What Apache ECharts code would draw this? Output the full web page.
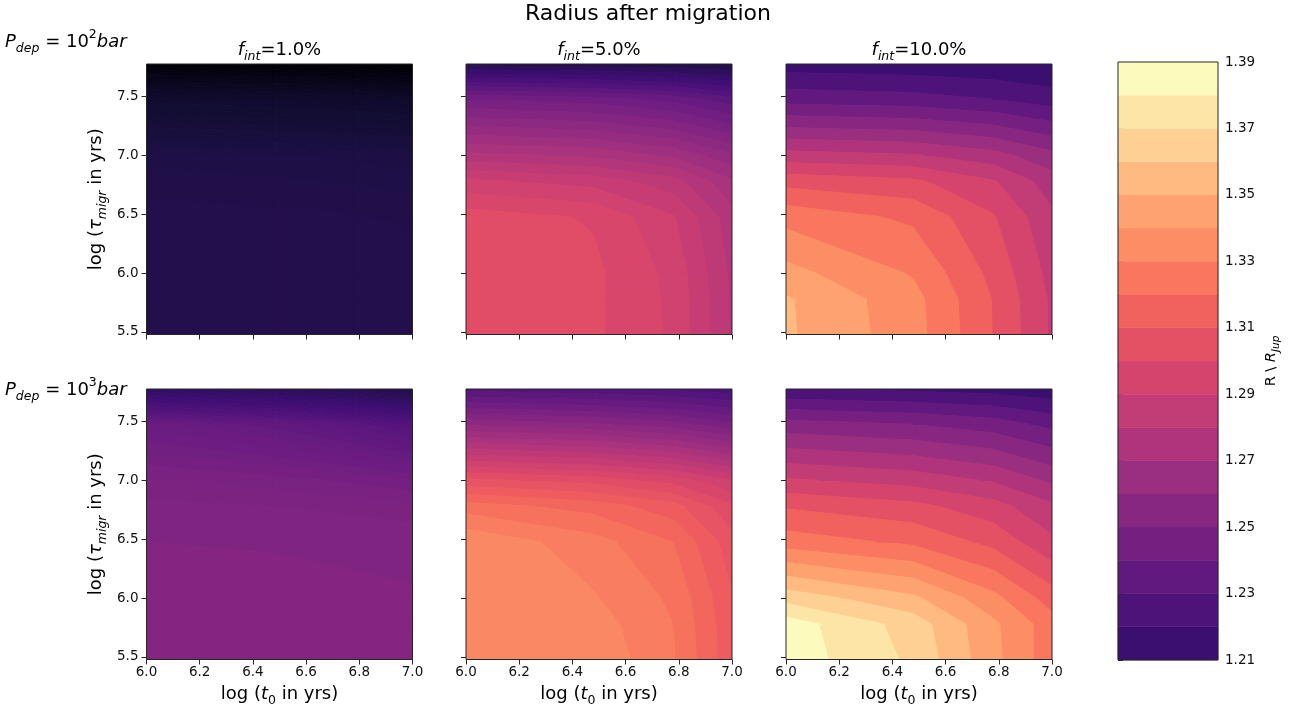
<!DOCTYPE html>
<html><head><meta charset="utf-8">
<script src="https://cdn.jsdelivr.net/npm/echarts@6/dist/echarts.min.js"></script>
<style>html,body{margin:0;padding:0;background:#fff}#c{width:1293px;height:710px}</style>
</head><body><div id="c"></div>
<script>
// ---- grid nodes (log10 of years) ----
const T0_LOG = [6.0, 6.4771, 6.7782, 7.0];
const TAU_LOG = [5.4771, 5.7782, 6.0, 6.4771, 6.7782, 7.0, 7.4771, 7.7782];

// ---- radius values, rows = TAU_LOG (bottom -> top), cols = T0_LOG ----
const R_P2_F1 = [
  [1.2020, 1.2019, 1.2018, 1.2017],
  [1.2020, 1.2019, 1.2018, 1.2016],
  [1.2019, 1.2018, 1.2017, 1.2015],
  [1.2015, 1.2013, 1.2011, 1.2008],
  [1.2005, 1.2002, 1.1999, 1.1995],
  [1.1995, 1.1991, 1.1987, 1.1982],
  [1.1905, 1.1898, 1.1890, 1.1882],
  [1.1740, 1.1733, 1.1727, 1.1720]
];
const R_P2_F5 = [
  [1.3035, 1.3010, 1.2941, 1.2793],
  [1.3035, 1.3010, 1.2939, 1.2792],
  [1.3032, 1.3012, 1.2935, 1.2788],
  [1.3026, 1.2995, 1.2905, 1.2770],
  [1.2913, 1.2880, 1.2820, 1.2710],
  [1.2765, 1.2740, 1.2690, 1.2610],
  [1.2450, 1.2425, 1.2385, 1.2320],
  [1.2030, 1.2020, 1.2005, 1.1990]
];
const R_P2_F10 = [
  [1.3515, 1.3342, 1.3100, 1.2885],
  [1.3511, 1.3335, 1.3095, 1.2882],
  [1.3433, 1.3290, 1.3070, 1.2865],
  [1.3264, 1.3180, 1.3010, 1.2820],
  [1.3064, 1.3020, 1.2910, 1.2750],
  [1.2840, 1.2810, 1.2740, 1.2630],
  [1.2360, 1.2340, 1.2300, 1.2250],
  [1.2150, 1.2135, 1.2120, 1.2100]
];
const R_P3_F1 = [
  [1.2525, 1.2525, 1.2524, 1.2523],
  [1.2525, 1.2525, 1.2524, 1.2523],
  [1.2524, 1.2524, 1.2523, 1.2522],
  [1.2520, 1.2519, 1.2517, 1.2514],
  [1.2505, 1.2500, 1.2494, 1.2488],
  [1.2485, 1.2470, 1.2455, 1.2440],
  [1.2390, 1.2350, 1.2310, 1.2270],
  [1.2090, 1.2060, 1.2030, 1.2000]
];
const R_P3_F5 = [
  [1.3345, 1.3340, 1.3255, 1.3116],
  [1.3345, 1.3325, 1.3250, 1.3112],
  [1.3345, 1.3305, 1.3240, 1.3105],
  [1.3343, 1.3270, 1.3200, 1.3070],
  [1.3225, 1.3180, 1.3120, 1.3010],
  [1.3065, 1.3030, 1.2980, 1.2900],
  [1.2590, 1.2560, 1.2520, 1.2460],
  [1.2280, 1.2260, 1.2240, 1.2220]
];
const R_P3_F10 = [
  [1.3860, 1.3680, 1.3430, 1.3240],
  [1.3850, 1.3655, 1.3420, 1.3243],
  [1.3660, 1.3520, 1.3330, 1.3150],
  [1.3250, 1.3180, 1.3070, 1.2920],
  [1.3090, 1.3030, 1.2940, 1.2820],
  [1.2914, 1.2860, 1.2790, 1.2680],
  [1.2540, 1.2500, 1.2450, 1.2370],
  [1.2206, 1.2180, 1.2160, 1.2130]
];

// contour level spacing of each panel
const LEVEL_STEP = [0.001, 0.005, 0.01, 0.002, 0.005, 0.01];

// ticks / labels
const X_TICKS = [6.0, 6.2, 6.4, 6.6, 6.8, 7.0];
const Y_TICKS = [5.5, 6.0, 6.5, 7.0, 7.5];
const CB_LEVELS = [1.21,1.22,1.23,1.24,1.25,1.26,1.27,1.28,1.29,1.30,1.31,1.32,1.33,1.34,1.35,1.36,1.37,1.38,1.39];
const CB_TICKS = [1.21,1.23,1.25,1.27,1.29,1.31,1.33,1.35,1.37,1.39];
const F_INT = ['1.0', '5.0', '10.0'];
const P_EXP = ['2', '3'];
const NORM_MIN = 1.172, NORM_MAX = 1.386;

// ---- magma colormap ----
const MAGMA = [
  [0.0,'#000004'],[0.1,'#140e36'],[0.1111,'#180f3d'],[0.2,'#3b0f70'],[0.2222,'#440f76'],
  [0.3,'#641a80'],[0.3333,'#721f81'],[0.4,'#8c2981'],[0.4444,'#9e2f7f'],[0.5,'#b73779'],
  [0.5556,'#cd4071'],[0.6,'#de4968'],[0.6667,'#f1605d'],[0.7,'#f7705c'],[0.7778,'#fd9668'],
  [0.8,'#fe9f6d'],[0.8889,'#feca8d'],[0.9,'#fecf92'],[1.0,'#fcfdbf']
];
function hex2rgb(h){return [parseInt(h.substr(1,2),16),parseInt(h.substr(3,2),16),parseInt(h.substr(5,2),16)];}
function magma(v){
  let t = (v - NORM_MIN) / (NORM_MAX - NORM_MIN);
  t = Math.max(0, Math.min(1, t));
  for (let k = 1; k < MAGMA.length; k++) {
    if (t <= MAGMA[k][0]) {
      const a = MAGMA[k-1], b = MAGMA[k];
      const f = (t - a[0]) / (b[0] - a[0]);
      const ca = hex2rgb(a[1]), cb = hex2rgb(b[1]);
      return 'rgb(' + [0,1,2].map(q => Math.round(ca[q] + f*(cb[q]-ca[q]))).join(',') + ')';
    }
  }
  return MAGMA[MAGMA.length-1][1];
}

function levelsFor(z, step){
  let mn = Infinity, mx = -Infinity;
  z.forEach(r => r.forEach(v => { mn = Math.min(mn, v); mx = Math.max(mx, v); }));
  const k0 = Math.floor(mn/step + 1e-9), k1 = Math.ceil(mx/step - 1e-9);
  const out = [];
  for (let k = k0; k <= k1; k++) out.push(Math.round(k*step*1e6)/1e6);
  return out;
}
function interp(a, b, lev){
  const t = (lev - a[2]) / (b[2] - a[2]);
  return [a[0] + t*(b[0]-a[0]), a[1] + t*(b[1]-a[1]), lev];
}
function clipPoly(poly, lev, above){
  const out = [];
  const inside = p => above ? p[2] >= lev : p[2] <= lev;
  for (let k = 0; k < poly.length; k++) {
    const s = poly[(k + poly.length - 1) % poly.length], e = poly[k];
    if (inside(e)) { if (!inside(s)) out.push(interp(s, e, lev)); out.push(e); }
    else if (inside(s)) out.push(interp(s, e, lev));
  }
  return out;
}

const PANELS = [
  {z: R_P2_F1, row: 0, col: 0}, {z: R_P2_F5, row: 0, col: 1}, {z: R_P2_F10, row: 0, col: 2},
  {z: R_P3_F1, row: 1, col: 0}, {z: R_P3_F5, row: 1, col: 1}, {z: R_P3_F10, row: 1, col: 2}
];
const COL_LEFT = [146.5, 466, 786], COL_W = 266;
const ROW_TOP = [64, 389], ROW_H = 270.5;

const FONT = 'DejaVu Sans';
function richSet(fs, sfs, lh, slh){
  return {
    n:   {fontFamily: FONT, fontSize: fs, lineHeight: lh, fontWeight: 'normal', color: '#000'},
    it:  {fontFamily: FONT, fontSize: fs, lineHeight: lh, fontWeight: 'normal', fontStyle: 'italic', color: '#000'},
    sub: {fontFamily: FONT, fontSize: sfs, lineHeight: slh, fontWeight: 'normal', fontStyle: 'italic', verticalAlign: 'bottom', color: '#000'},
    subn:{fontFamily: FONT, fontSize: sfs, lineHeight: slh, fontWeight: 'normal', verticalAlign: 'bottom', color: '#000'},
    sup: {fontFamily: FONT, fontSize: sfs, lineHeight: slh, fontWeight: 'normal', verticalAlign: 'top', color: '#000'}
  };
}
const RICH_AX = richSet(18, 12.5, 27, 15);
const RICH_T = richSet(18, 12.5, 27, 15);

const grids = [], xAxes = [], yAxes = [], series = [];
PANELS.forEach((p, idx) => {
  grids.push({left: COL_LEFT[p.col], top: ROW_TOP[p.row], width: COL_W, height: ROW_H,
    show: true, borderColor: '#262626', borderWidth: 1, backgroundColor: 'transparent', z: 10});
  xAxes.push({gridIndex: idx, type: 'value', min: 6, max: 7,
    axisLine: {show: false}, splitLine: {show: false},
    axisTick: {show: true, length: 5, customValues: X_TICKS, lineStyle: {color: '#262626'}},
    axisLabel: {show: p.row === 1, customValues: X_TICKS, margin: 6, fontFamily: FONT, fontSize: 13.5, color: '#111',
      formatter: v => v.toFixed(1)},
    name: p.row === 1 ? '{n|log (}{it|t}{subn|0}{n| in yrs)}' : '',
    nameLocation: 'middle', nameGap: 21,
    nameTextStyle: {rich: RICH_AX}
  });
  yAxes.push({gridIndex: idx, type: 'value', min: TAU_LOG[0], max: TAU_LOG[TAU_LOG.length-1],
    axisLine: {show: false}, splitLine: {show: false},
    axisTick: {show: true, length: 5, customValues: Y_TICKS, lineStyle: {color: '#262626'}},
    axisLabel: {show: p.col === 0, customValues: Y_TICKS, margin: 8, fontFamily: FONT, fontSize: 13.5, color: '#111',
      formatter: v => v.toFixed(1)},
    name: p.col === 0 ? '{n|log (}{it|τ}{sub|migr}{n| in yrs)}' : '',
    nameLocation: 'middle', nameGap: 37, nameRotate: 90,
    nameTextStyle: {rich: RICH_AX}
  });
  const levels = levelsFor(p.z, LEVEL_STEP[idx]);
  const cells = [];
  for (let j = 0; j < TAU_LOG.length - 1; j++)
    for (let i = 0; i < T0_LOG.length - 1; i++)
      cells.push([(T0_LOG[i]+T0_LOG[i+1])/2, (TAU_LOG[j]+TAU_LOG[j+1])/2, i, j]);
  series.push({
    type: 'custom', xAxisIndex: idx, yAxisIndex: idx, silent: true, clip: true, z: 2,
    encode: {x: 0, y: 1}, data: cells,
    renderItem: (params, api) => {
      const i = api.value(2), j = api.value(3), Z = p.z;
      const poly = [
        [T0_LOG[i],   TAU_LOG[j],   Z[j][i]],
        [T0_LOG[i+1], TAU_LOG[j],   Z[j][i+1]],
        [T0_LOG[i+1], TAU_LOG[j+1], Z[j+1][i+1]],
        [T0_LOG[i],   TAU_LOG[j+1], Z[j+1][i]]
      ];
      const zs = poly.map(q => q[2]);
      const zmin = Math.min(...zs), zmax = Math.max(...zs);
      const children = [];
      for (let k = 0; k < levels.length - 1; k++) {
        const lo = levels[k], hi = levels[k+1];
        if (hi < zmin || lo > zmax) continue;
        let c = clipPoly(poly, lo, true);
        if (c.length < 3) continue;
        c = clipPoly(c, hi, false);
        if (c.length < 3) continue;
        const col = magma((lo + hi) / 2);
        children.push({type: 'polygon', shape: {points: c.map(q => api.coord([q[0], q[1]]))},
          style: {fill: col, stroke: col, lineWidth: 1.1}});
      }
      return {type: 'group', children};
    }
  });
});

// ---- colorbar ----
const CBI = PANELS.length;
grids.push({left: 1118, top: 62, width: 100, height: 598, show: true, borderColor: '#262626', borderWidth: 1,
  backgroundColor: 'transparent', z: 10});
xAxes.push({gridIndex: CBI, type: 'value', min: 0, max: 1, show: false});
yAxes.push({gridIndex: CBI, type: 'value', position: 'right', min: CB_LEVELS[0], max: CB_LEVELS[CB_LEVELS.length-1],
  axisLine: {show: false}, splitLine: {show: false},
  axisTick: {show: true, length: 5, customValues: CB_TICKS, lineStyle: {color: '#262626'}},
  axisLabel: {customValues: CB_TICKS, margin: 7, fontFamily: FONT, fontSize: 13.5, color: '#111', formatter: v => v.toFixed(2)},
  name: '{n|R \\ }{it|R}{sub|Jup}', nameLocation: 'middle', nameGap: 42, nameRotate: 90,
  nameTextStyle: {rich: richSet(14.5, 10.5, 22, 13)}
});
series.push({
  type: 'custom', xAxisIndex: CBI, yAxisIndex: CBI, silent: true, z: 2,
  encode: {x: 0, y: 1},
  data: CB_LEVELS.slice(0, -1).map((lo, k) => [0.5, (lo + CB_LEVELS[k+1]) / 2, k]),
  renderItem: (params, api) => {
    const k = api.value(2), lo = CB_LEVELS[k], hi = CB_LEVELS[k+1];
    const a = api.coord([0, hi]), b = api.coord([1, lo]);
    const col = magma((lo + hi) / 2);
    return {type: 'rect', shape: {x: a[0], y: a[1], width: b[0]-a[0], height: b[1]-a[1]},
      style: {fill: col, stroke: col, lineWidth: 0.5}};
  }
});

// ---- titles ----
const titles = [
  {text: 'Radius after migration', left: 648, top: 14, textAlign: 'center', textVerticalAlign: 'middle', padding: 0,
    textStyle: {fontFamily: FONT, fontSize: 22, fontWeight: 'normal', color: '#000'}}
];
F_INT.forEach((f, c) => titles.push({
  text: '{it|f}{sub|int}{n|=' + f + '%}', left: COL_LEFT[c] + COL_W/2, top: 50, textAlign: 'center',
  textVerticalAlign: 'middle', padding: 0, textStyle: {fontWeight: 'normal', rich: RICH_T}
}));
P_EXP.forEach((e, r) => titles.push({
  text: '{it|P}{sub|dep}{n| = 10}{sup|' + e + '}{it|bar}', left: 5, top: [42, 390][r], textAlign: 'left',
  textVerticalAlign: 'middle', padding: 0, textStyle: {fontWeight: 'normal', rich: RICH_T}
}));

const chart = echarts.init(document.getElementById('c'), null, {renderer: 'canvas'});
chart.setOption({
  animation: false, backgroundColor: '#fff',
  title: titles, grid: grids, xAxis: xAxes, yAxis: yAxes, series: series
});
</script></body></html>
